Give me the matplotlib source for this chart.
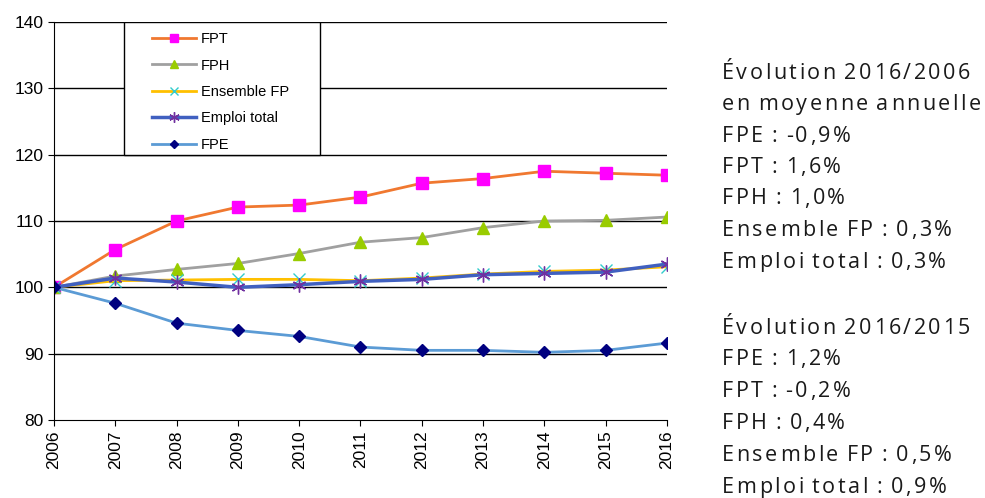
import numpy as np
import matplotlib.pyplot as plt
from matplotlib.patches import Rectangle

years = [2006, 2007, 2008, 2009, 2010, 2011, 2012, 2013, 2014, 2015, 2016]
fpt = [100, 105.7, 110.0, 112.1, 112.4, 113.6, 115.7, 116.4, 117.5, 117.2, 116.9]
fph = [100, 101.7, 102.7, 103.6, 105.1, 106.8, 107.5, 109.0, 110.0, 110.1, 110.6]
ens = [100, 101.0, 101.1, 101.2, 101.2, 101.0, 101.4, 102.0, 102.4, 102.6, 103.1]
emp = [100, 101.4, 100.8, 100.0, 100.4, 100.9, 101.2, 101.9, 102.1, 102.3, 103.5]
fpe = [100, 97.6, 94.6, 93.5, 92.6, 91.0, 90.5, 90.5, 90.2, 90.5, 91.6]

notes_long = ["Évolution 2016/2006", "en moyenne annuelle", "FPE : -0,9%", "FPT : 1,6%",
              "FPH : 1,0%", "Ensemble FP : 0,3%", "Emploi total : 0,3%"]
notes_short = ["Évolution 2016/2015", "FPE : 1,2%", "FPT : -0,2%", "FPH : 0,4%",
               "Ensemble FP : 0,5%", "Emploi total : 0,9%"]

fig = plt.figure(figsize=(9.85, 4.98), dpi=100)
ax = fig.add_axes([54/985, 78/498, 613/985, 398/498])

ax.plot(years, fpt, color='#f07830', lw=2, marker='s', ms=8, mfc='#ff00ff', mec='#ff00ff', label='FPT')
ax.plot(years, fph, color='#a0a0a0', lw=2, marker='^', ms=8, mfc='#99cc00', mec='#99cc00', label='FPH')
ax.plot(years, ens, color='#ffc000', lw=2, marker='x', ms=8, mfc='#33cccc', mec='#33cccc', mew=1, label='Ensemble FP')
ax.plot(years, emp, color='#4060c0', lw=2.5, marker=(6, 2, 0), ms=10, mec='#7030a0', mew=1, label='Emploi total')
ax.plot(years, fpe, color='#5b9bd5', lw=2, marker='D', ms=6, mfc='#000080', mec='#000080', label='FPE')

ax.set_xlim(2006, 2016)
ax.set_ylim(80, 140)
ax.set_yticks(range(80, 141, 10))
ax.set_xticks(years)
ax.set_xticklabels([str(y) for y in years], rotation=90, fontsize=12.5, family='Liberation Sans')
for lab in ax.get_yticklabels():
    lab.set_fontsize(12.5)
    lab.set_family('Liberation Sans')
for y in range(90, 141, 10):
    ax.axhline(y, color='black', lw=1, zorder=0)
for s in ['top', 'right']:
    ax.spines[s].set_visible(False)
ax.tick_params(length=4, color='black')

# legend box (drawn separately to get the wide right padding)
box = Rectangle((70/613, 265/398), 196/613, 133/398, transform=ax.transAxes,
                facecolor='white', edgecolor='black', lw=1, zorder=4)
ax.add_patch(box)
leg = ax.legend(loc='upper left', bbox_to_anchor=(85/613, 1.0 + 3/398), frameon=False,
                borderpad=0.4, labelspacing=0.85, handlelength=3.0, handletextpad=0.35,
                markerscale=0.75, prop={'family': 'Liberation Sans', 'size': 10.5})
leg.set_zorder(5)

def tracked(x, y, s, track):
    r = fig.canvas.get_renderer()
    for ch in s:
        t = fig.text(x / 985, 1 - y / 498, ch, fontsize=15.5, family='Open Sans',
                     va='center', color='#1a1a1a')
        if ch == ' ':
            w = 3.5
        else:
            w = t.get_window_extent(r).width
        x += w + track

y0 = 73
for i, t in enumerate(notes_long):
    tracked(722, y0 + i * 31.5, t, 2.5)
y1 = 328
for i, t in enumerate(notes_short):
    tracked(722, y1 + i * 31.8, t, 2.5)

fig.savefig('out.png', dpi=100)
